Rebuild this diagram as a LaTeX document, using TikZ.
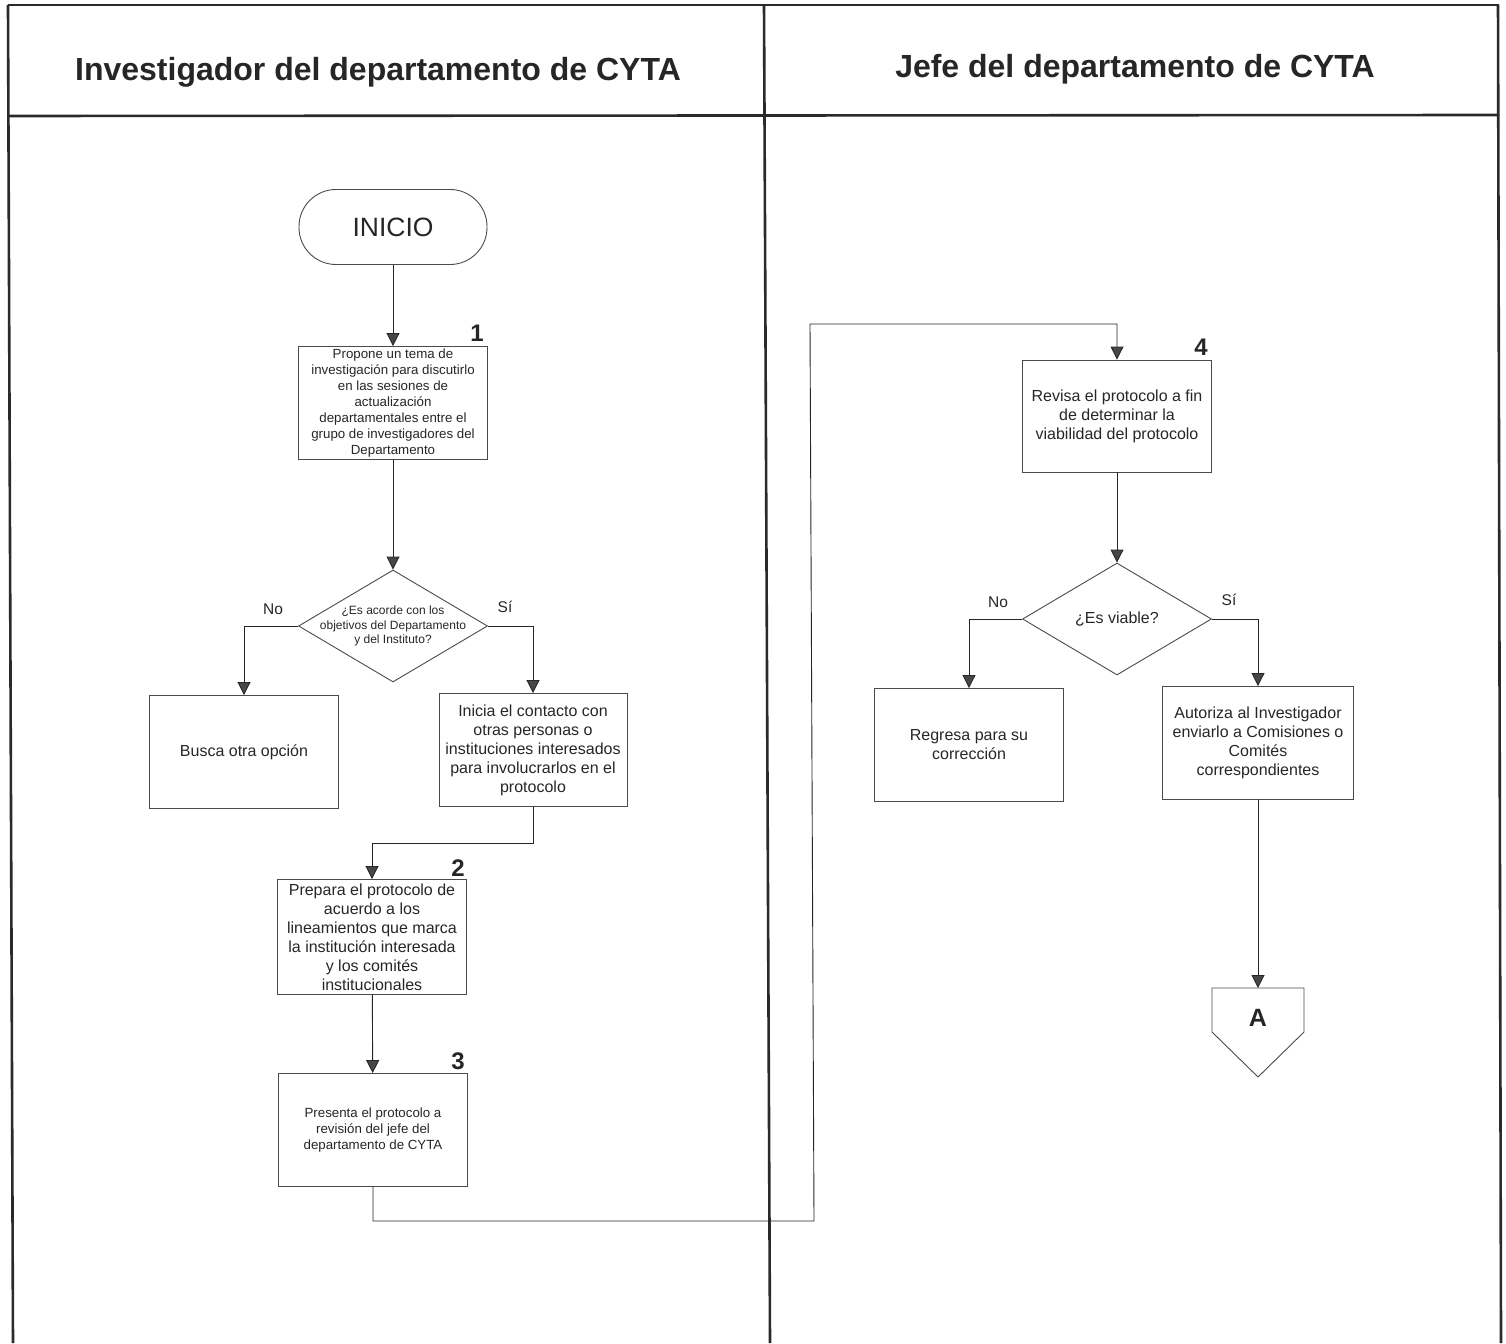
\documentclass[tikz,border=0pt]{standalone}
\usepackage{fontspec}
\setmainfont{Liberation Sans}
\usetikzlibrary{shapes.geometric,arrows.meta}
\definecolor{ink}{HTML}{262626}
\definecolor{boxline}{HTML}{4A4A4A}
\definecolor{laneline}{HTML}{2A2A2A}

\begin{document}
\begin{tikzpicture}[x=1pt,y=-1pt,
    every node/.style={text=ink},
    lane/.style={draw=laneline, line width=2.6pt},
    lanetitle/.style={font=\fontsize{32}{38}\selectfont\bfseries},
    proc/.style={draw=boxline, line width=0.9pt, minimum width=189pt,
        minimum height=113pt, inner sep=0pt, align=center},
    small/.style={font=\fontsize{13.3}{16}\selectfont},
    normal/.style={font=\fontsize{16}{19}\selectfont},
    terminal/.style={draw=boxline, line width=0.9pt, rounded corners=37pt,
        minimum width=188pt, minimum height=75pt, font=\fontsize{26.5}{30}\selectfont},
    decision/.style={draw=boxline, line width=0.9pt, diamond, inner sep=0pt,
        minimum width=189pt, minimum height=112pt},
    stepno/.style={font=\fontsize{24}{28}\selectfont\bfseries},
    answer/.style={font=\fontsize{15.5}{18}\selectfont},
    flow/.style={draw=ink, line width=0.9pt,
        -{Triangle[width=13pt,length=13pt,fill=black!72]}}
]
\useasboundingbox (0,0) rectangle (1506,1343);

% swimlanes
\draw[lane] (8,5) -- (1499,5);
\draw[lane] (8,116) -- (1499,115);
\draw[lane] (8,5) -- (13,1343);
\draw[lane] (764,5) -- (770,1343);
\draw[lane] (1498,5) -- (1501,1343);
\node[lanetitle] (laneA) at (378,72) {Investigador del departamento de CYTA};
\node[lanetitle] (laneB) at (1135,69) {Jefe del departamento de CYTA};

% investigador
\node[terminal] (inicio) at (393,227) {INICIO};
\node[proc, small] (p1) at (393,403) {Propone un tema de\\investigación para discutirlo\\en las sesiones de\\actualización\\departamentales entre el\\grupo de investigadores del\\Departamento};
\node[stepno] (n1) at (477,333) {1};
\node[decision, label={[align=center, font=\fontsize{12}{14.5}\selectfont]center:¿Es acorde con los\\objetivos del Departamento\\y del Instituto?}] (d1) at (393,626) {};
\node[proc, normal] (busca) at (244,752) {Busca otra opción};
\node[proc, normal, minimum width=188pt] (inicia) at (533,750) {Inicia el contacto con\\otras personas o\\instituciones interesados\\para involucrarlos en el\\protocolo};
\node[proc, normal, minimum height=115pt] (p2) at (372,937) {Prepara el protocolo de\\acuerdo a los\\lineamientos que marca\\la institución interesada\\y los comités\\institucionales};
\node[stepno] (n2) at (458,868) {2};
\node[proc, small] (p3) at (373,1130) {Presenta el protocolo a\\revisión del jefe del\\departamento de CYTA};
\node[stepno] (n3) at (458,1061) {3};
\node[answer] (no1) at (273,609) {No};
\node[answer] (si1) at (505,607) {Sí};

% jefe
\node[proc, normal, minimum height=112pt] (p4) at (1117,416) {Revisa el protocolo a fin\\de determinar la\\viabilidad del protocolo};
\node[stepno] (n4) at (1201,347) {4};
\node[decision, label={[normal]center:¿Es viable?}] (d2) at (1117,619) {};
\node[proc, normal] (regresa) at (969,745) {Regresa para su\\corrección};
\node[proc, normal, minimum width=191pt] (autoriza) at (1258,743) {Autoriza al Investigador\\enviarlo a Comisiones o\\Comités\\correspondientes};
\node[answer] (no2) at (998,602) {No};
\node[answer] (si2) at (1229,600) {Sí};

% conector fuera de pagina
\coordinate (atop) at (1258,988);
\draw[draw=boxline, line width=0.9pt] (atop) ++(-46,0) -- ++(92,0) -- ++(0,44)
    -- (1258,1077) -- (1212,1032) -- cycle;
\node[font=\fontsize{25}{30}\selectfont\bfseries] (conA) at (1258,1018) {A};

% flujo
\coordinate (bend1) at (814,1221);
\coordinate (bend2) at (810,324);
\draw[flow] (inicio) -- (p1);
\draw[flow] (p1) -- (d1);
\draw[flow] (d1.west) -| (busca.north);
\draw[flow] (d1.east) -| (inicia.north);
\draw[flow] (inicia.south) -- ++(0,36) -| (p2.north);
\draw[flow] (p2) -- (p3);
\draw[flow] (p3.south) |- (bend1) -- (bend2) -| (p4.north);
\draw[flow] (p4) -- (d2);
\draw[flow] (d2.west) -| (regresa.north);
\draw[flow] (d2.east) -| (autoriza.north);
\draw[flow] (autoriza) -- (atop);
\end{tikzpicture}
\end{document}
